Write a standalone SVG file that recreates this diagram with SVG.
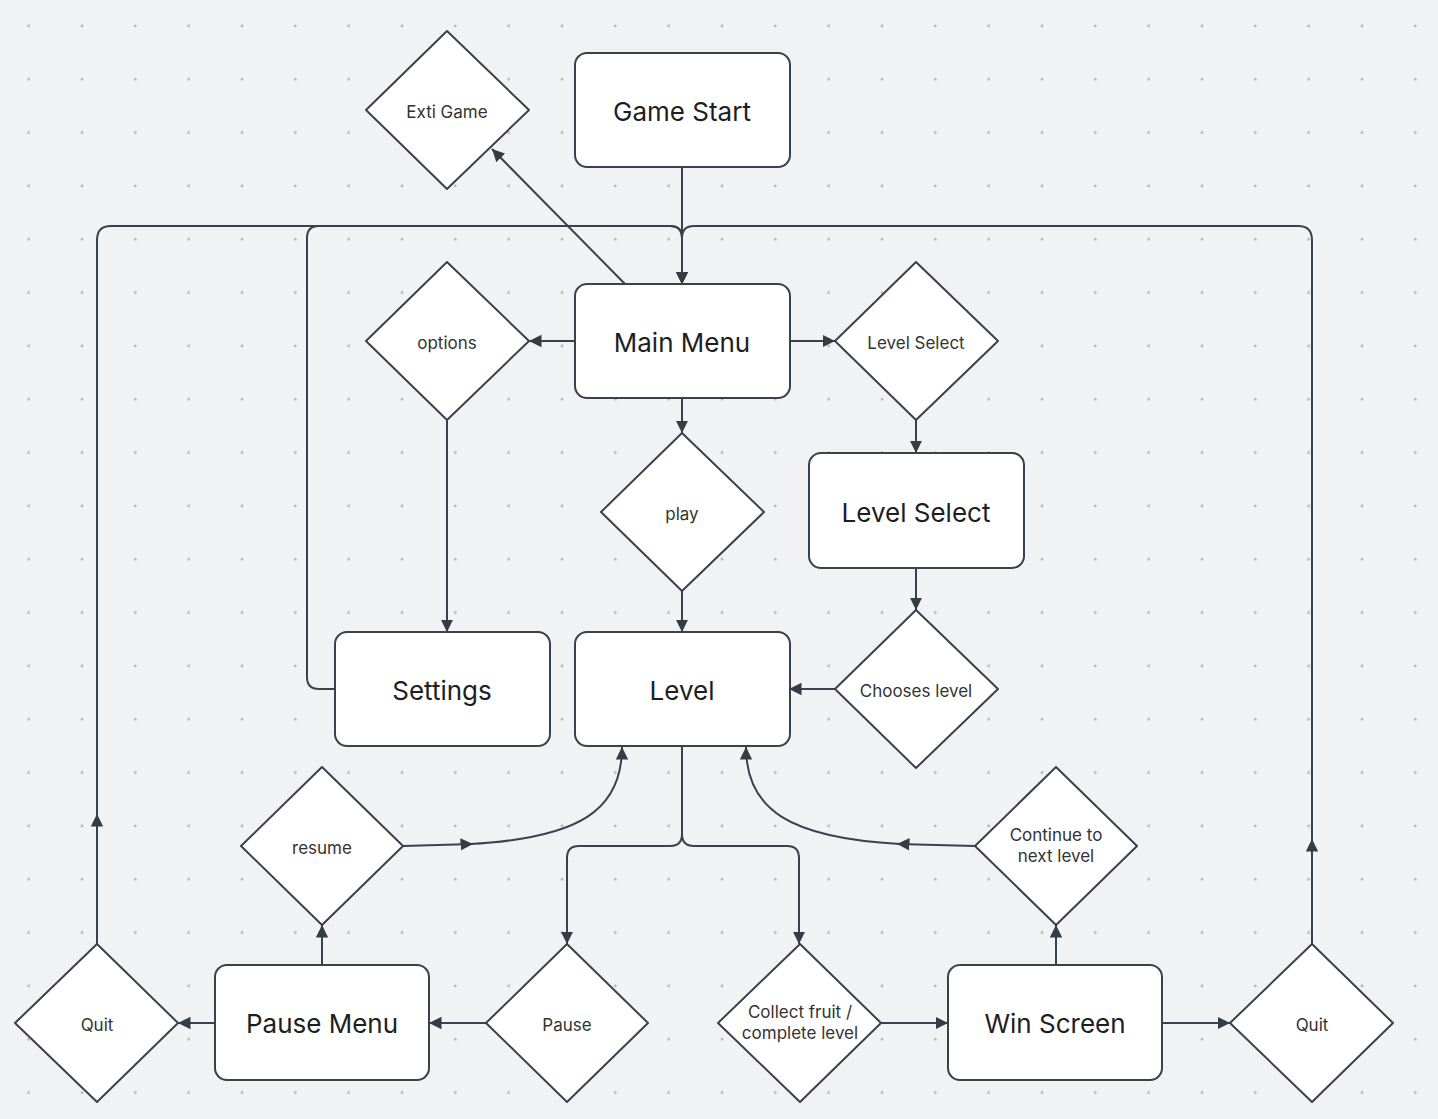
<svg xmlns="http://www.w3.org/2000/svg" width="1438" height="1119" viewBox="0 0 1438 1119">
<defs>
<pattern id="dots" patternUnits="userSpaceOnUse" x="2" y="-0.67" width="53.333" height="53.333">
<circle cx="26.667" cy="26.667" r="1.4" fill="#b3b5ba"/>
</pattern>
<marker id="arr" markerUnits="userSpaceOnUse" markerWidth="14" markerHeight="14" refX="12.5" refY="7" orient="auto" viewBox="0 0 14 14">
<path d="M0,0.8 L12.5,7 L0,13.2 z" fill="#363b44"/>
</marker>
</defs>
<style>
.box{fill:#ffffff;stroke:#3b414b;stroke-width:2}
.dia{fill:#ffffff;stroke:#3b414b;stroke-width:2;stroke-linejoin:round}
.lbl{font-family:Inter,"Noto Sans",sans-serif;font-size:26px;fill:#1e1e1e;text-anchor:middle;dominant-baseline:central}
.dl{font-family:Inter,"Noto Sans",sans-serif;font-size:17px;fill:#333333;text-anchor:middle;dominant-baseline:central}
.c{fill:none;stroke:#3b414b;stroke-width:2}
.a{marker-end:url(#arr)}
</style>
<rect width="1438" height="1119" fill="#f1f2f4"/>
<rect width="1438" height="1119" fill="url(#dots)"/>

<g id="connectors">
<path class="c a" d="M682,167 L682,284"/>
<path class="c a" d="M625,284 L492,149"/>
<path class="c a" d="M575,341 L529,341"/>
<path class="c a" d="M789,341 L835,341"/>
<path class="c a" d="M682,398 L682,433"/>
<path class="c a" d="M447,420 L447,632"/>
<path class="c a" d="M916,420 L916,453"/>
<path class="c a" d="M916,568 L916,610"/>
<path class="c a" d="M682,591 L682,632"/>
<path class="c a" d="M835,689 L789,689"/>
<path class="c a" d="M335,689 L319,689 Q307,689 307,677 L307,238 Q307,226 319,226 L670,226 Q682,226 682,238 L682,284"/>
<path class="c a" d="M97,944 L97,814"/>
<path class="c a" d="M97,816 L97,240 Q97,226 111,226 L670,226 Q682,226 682,238 L682,284"/>
<path class="c a" d="M1312,944 L1312,839"/>
<path class="c a" d="M1312,841 L1312,240 Q1312,226 1298,226 L694,226 Q682,226 682,238 L682,284"/>
<path class="c a" d="M682,746 L682,834 Q682,846 670,846 L579,846 Q567,846 567,858 L567,944"/>
<path class="c a" d="M682,746 L682,834 Q682,846 694,846 L787,846 Q799,846 799,858 L799,944"/>
<path class="c a" d="M486,1023 L429,1023"/>
<path class="c a" d="M215,1023 L178,1023"/>
<path class="c a" d="M322,965 L322,925"/>
<path class="c a" d="M403,846 L473,844"/>
<path class="c a" d="M470,844 C580,838 622,810 622,747"/>
<path class="c a" d="M975,846 L897,844"/>
<path class="c a" d="M900,844 C790,838 746,810 746,747"/>
<path class="c a" d="M881,1023 L948,1023"/>
<path class="c a" d="M1056,965 L1056,925"/>
<path class="c a" d="M1162,1023 L1230,1023"/>
</g>

<g id="game-start"><rect class="box" x="575" y="53" width="215" height="114" rx="12"/><text class="lbl" x="682" y="111">Game Start</text></g>
<g id="main-menu"><rect class="box" x="575" y="284" width="215" height="114" rx="12"/><text class="lbl" x="682" y="342">Main Menu</text></g>
<g id="level-select-box"><rect class="box" x="809" y="453" width="215" height="115" rx="12"/><text class="lbl" x="916" y="512">Level Select</text></g>
<g id="settings"><rect class="box" x="335" y="632" width="215" height="114" rx="12"/><text class="lbl" x="442" y="690">Settings</text></g>
<g id="level"><rect class="box" x="575" y="632" width="215" height="114" rx="12"/><text class="lbl" x="682" y="690">Level</text></g>
<g id="pause-menu"><rect class="box" x="215" y="965" width="214" height="115" rx="12"/><text class="lbl" x="322" y="1023">Pause Menu</text></g>
<g id="win-screen"><rect class="box" x="948" y="965" width="214" height="115" rx="12"/><text class="lbl" x="1055" y="1023">Win Screen</text></g>

<g id="exit-game"><polygon class="dia" points="447,31 529,110 447,189 366,110"/><text class="dl" x="447" y="112">Exti Game</text></g>
<g id="options"><polygon class="dia" points="447,262 529,341 447,420 366,341"/><text class="dl" x="447" y="343">options</text></g>
<g id="level-select-decision"><polygon class="dia" points="916,262 998,341 916,420 835,341"/><text class="dl" x="916" y="343">Level Select</text></g>
<g id="play"><polygon class="dia" points="682,433 764,512 682,591 601,512"/><text class="dl" x="682" y="514">play</text></g>
<g id="chooses-level"><polygon class="dia" points="916,610 998,689 916,768 835,689"/><text class="dl" x="916" y="691">Chooses level</text></g>
<g id="resume"><polygon class="dia" points="322,767 403,846 322,925 241,846"/><text class="dl" x="322" y="848">resume</text></g>
<g id="continue"><polygon class="dia" points="1056,767 1137,846 1056,925 975,846"/><text class="dl" x="1056" y="835">Continue to</text><text class="dl" x="1056" y="856">next level</text></g>
<g id="quit-left"><polygon class="dia" points="97,944 178,1023 97,1102 15,1023"/><text class="dl" x="97" y="1025">Quit</text></g>
<g id="pause"><polygon class="dia" points="567,944 648,1023 567,1102 486,1023"/><text class="dl" x="567" y="1025">Pause</text></g>
<g id="collect"><polygon class="dia" points="800,944 881,1023 800,1102 718,1023"/><text class="dl" x="800" y="1012">Collect fruit /</text><text class="dl" x="800" y="1033">complete level</text></g>
<g id="quit-right"><polygon class="dia" points="1312,944 1393,1023 1312,1102 1230,1023"/><text class="dl" x="1312" y="1025">Quit</text></g>
</svg>
